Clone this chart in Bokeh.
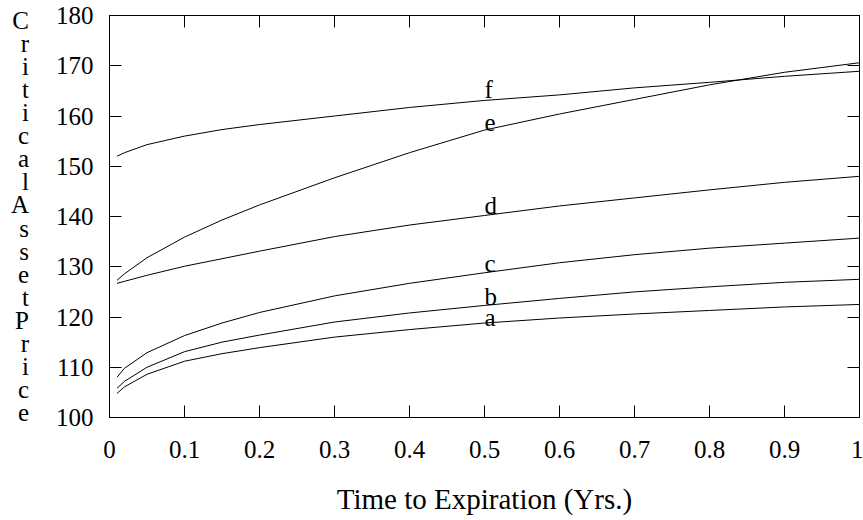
from bokeh.plotting import figure
from bokeh.models import LinearAxis, FixedTicker, Range1d, ColumnDataSource
from bokeh.core.properties import value
from bokeh.embed import file_html
from bokeh.resources import INLINE

# ---- data ----
t = [0.01, 0.02, 0.05, 0.1, 0.15, 0.2, 0.3, 0.4, 0.5, 0.6, 0.7, 0.8, 0.9, 1.0]
price_a = [104.8, 106.1, 108.6, 111.2, 112.7, 113.9, 116.0, 117.5, 118.8, 119.8, 120.6, 121.3, 122.0, 122.5]
price_b = [105.8, 107.2, 110.0, 113.1, 115.0, 116.4, 119.0, 120.8, 122.3, 123.7, 125.0, 126.0, 126.9, 127.5]
price_c = [108.0, 109.8, 112.9, 116.3, 118.8, 120.9, 124.2, 126.7, 128.8, 130.8, 132.4, 133.7, 134.7, 135.7]
price_d = [126.7, 127.1, 128.3, 130.1, 131.6, 133.1, 136.0, 138.3, 140.2, 142.1, 143.7, 145.3, 146.8, 148.0]
price_e = [127.3, 128.6, 131.8, 135.9, 139.3, 142.3, 147.7, 152.7, 157.2, 160.4, 163.3, 166.2, 168.7, 170.6]
price_f = [152.0, 152.7, 154.3, 156.0, 157.3, 158.3, 160.0, 161.7, 163.1, 164.2, 165.6, 166.7, 167.9, 168.9]

curve_names = ["a", "b", "c", "d", "e", "f"]
label_x = [0.5, 0.5, 0.5, 0.5, 0.5, 0.5]
label_y = [120.0, 124.1, 130.7, 142.2, 158.7, 165.3]

x_ticks = [0, 0.1, 0.2, 0.3, 0.4, 0.5, 0.6, 0.7, 0.8, 0.9, 1]
x_tick_labels = ["0", "0.1", "0.2", "0.3", "0.4", "0.5", "0.6", "0.7", "0.8", "0.9", "1"]
y_ticks = [100, 110, 120, 130, 140, 150, 160, 170, 180]
y_tick_labels = ["100", "110", "120", "130", "140", "150", "160", "170", "180"]

x_title = "Time to Expiration (Yrs.)"
y_title = "Critical Asset Price"

FONT = "Liberation Serif"

# ---- layout (pixels) ----
TOTAL_W, TOTAL_H = 863, 520
LEFT, TOP, RIGHT, BOTTOM = 109, 15, 4, 103

p = figure(width=TOTAL_W, height=TOTAL_H,
           x_range=Range1d(0, 1), y_range=Range1d(100, 180),
           output_backend="svg", toolbar_location=None,
           min_border_left=LEFT, min_border_top=TOP,
           min_border_right=RIGHT, min_border_bottom=BOTTOM)

p.grid.visible = False
p.outline_line_color = "black"
p.outline_line_width = 1
p.background_fill_color = "white"
p.border_fill_color = "white"


def style_axis(ax, ticks, labels, show_labels=True):
    ax.ticker = FixedTicker(ticks=ticks, minor_ticks=[])
    ax.major_label_overrides = {tk: lb for tk, lb in zip(ticks, labels)}
    ax.major_tick_in = 12
    ax.major_tick_out = 0
    ax.minor_tick_in = 0
    ax.minor_tick_out = 0
    ax.major_tick_line_color = "black"
    ax.axis_line_color = "black"
    ax.major_label_text_font = FONT
    if show_labels:
        ax.major_label_text_color = "black"
        ax.major_label_text_font_size = "25px"
        ax.major_label_standoff = 16
    else:
        ax.major_label_text_color = None
        ax.major_label_text_font_size = "1px"
        ax.major_label_standoff = 0


xaxis = p.xaxis[0]
yaxis = p.yaxis[0]
style_axis(xaxis, x_ticks, x_tick_labels)
style_axis(yaxis, y_ticks, y_tick_labels)
xaxis.major_label_standoff = 23

xaxis.axis_label = x_title
xaxis.axis_label_text_font = FONT
xaxis.axis_label_text_font_size = "29px"
xaxis.axis_label_text_font_style = "normal"
xaxis.axis_label_text_color = "black"
xaxis.axis_label_standoff = 22

# stacked vertical y title: one letter per line
letters = [ch for ch in y_title if ch != " "]
yaxis.axis_label = "\n".join(letters)
yaxis.axis_label_orientation = "horizontal"
yaxis.axis_label_text_font = FONT
yaxis.axis_label_text_font_size = "25px"
yaxis.axis_label_text_font_style = "normal"
yaxis.axis_label_text_color = "black"
yaxis.axis_label_text_line_height = 0.855
yaxis.axis_label_text_align = "center"
yaxis.axis_label_standoff = 24

top_axis = LinearAxis()
right_axis = LinearAxis()
style_axis(top_axis, x_ticks, x_tick_labels, show_labels=False)
style_axis(right_axis, y_ticks, y_tick_labels, show_labels=False)
p.add_layout(top_axis, "above")
p.add_layout(right_axis, "right")

# ---- curves ----
for ys in [price_a, price_b, price_c, price_d, price_e, price_f]:
    p.line(t, ys, line_color="black", line_width=1)

src = ColumnDataSource(dict(x=label_x, y=label_y, text=curve_names))
p.text(x="x", y="y", text="text", source=src,
       text_font=value(FONT), text_font_size=value("25px"),
       text_align="left", text_baseline="alphabetic", text_color="black")

open("out.html", "w").write(file_html(p, INLINE))
